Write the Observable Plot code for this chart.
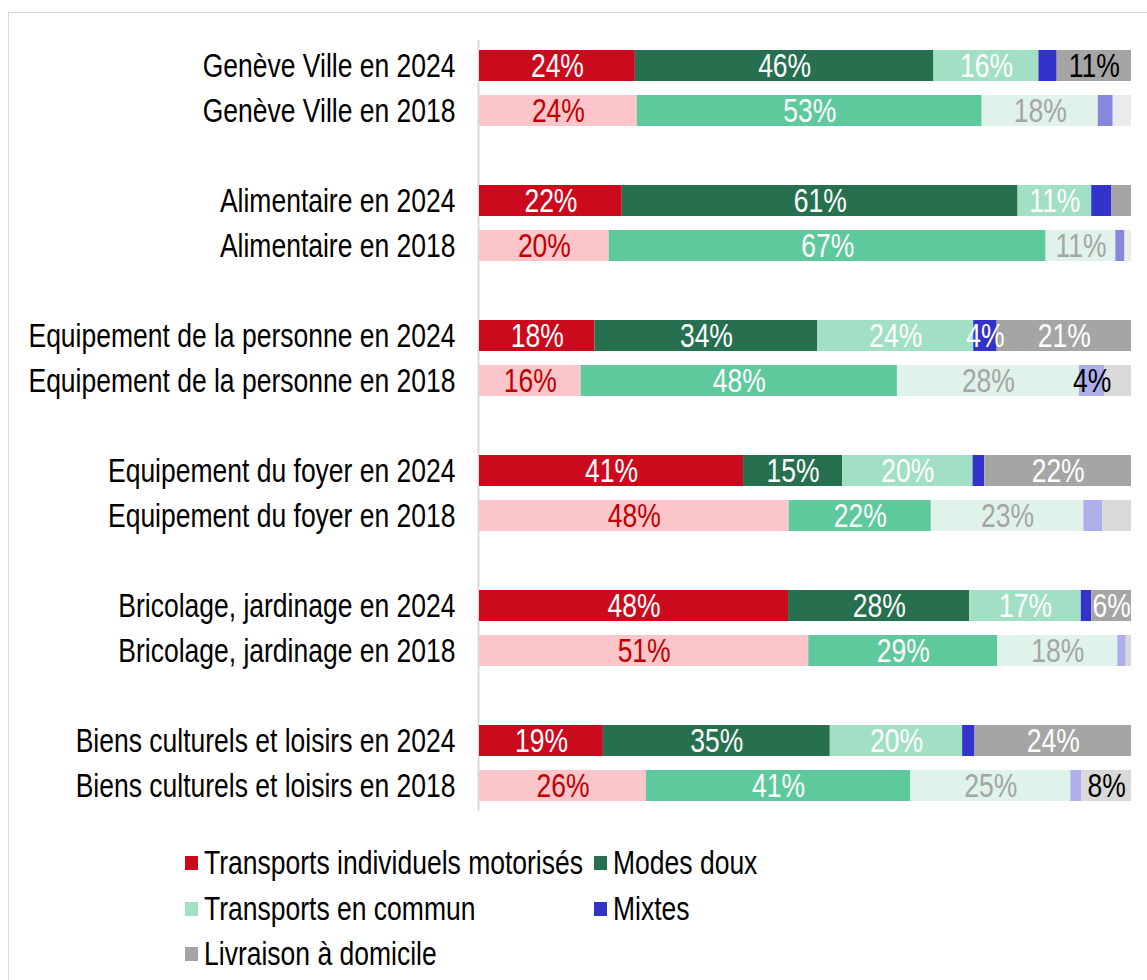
<!DOCTYPE html>
<html>
<head>
<meta charset="utf-8">
<script src="https://cdn.jsdelivr.net/npm/d3@7"></script>
<script src="https://cdn.jsdelivr.net/npm/@observablehq/plot@0.6"></script>
<style>
  html, body { margin: 0; padding: 0; background: #fff; overflow: hidden; width: 1147px; height: 980px; }
  #frame { position: absolute; left: 8px; top: 12px; width: 1160px; height: 1000px; border: 1px solid #d9d9d9; box-sizing: border-box; }
  #chart { position: absolute; left: 0; top: 0; }
  .font { font-family: 'Liberation Sans', Arial, sans-serif; }
  #legend { position: absolute; left: 185px; top: 846px; width: 900px; font-size: 26.5px; color: #000; }
  .item { position: absolute; display: flex; align-items: center; white-space: nowrap; height: 34px; }
  .sw { width: 13px; height: 14px; margin-right: 6px; flex: none; }
  .lt { display: inline-block; transform: scaleY(1.26); transform-origin: 50% 55%; }
</style>
</head>
<body>
<div id="frame"></div>
<div id="chart" class="font"></div>
<div id="legend" class="font"></div>
<script>
const categories = ["Genève Ville", "Alimentaire", "Equipement de la personne", "Equipement du foyer", "Bricolage, jardinage", "Biens culturels et loisirs"];
const years = ["2024", "2018"];
const modes = ["Transports individuels motorisés", "Modes doux", "Transports en commun", "Mixtes", "Livraison à domicile"];

// shares (%) per category, in mode order
const values2024 = [
  [23.9, 45.8, 16.1, 2.8, 11.4],
  [21.9, 60.7, 11.3, 3.1, 3.0],
  [17.7, 34.2, 23.9, 3.6, 20.6],
  [40.5, 15.2, 20.0, 1.8, 22.5],
  [47.4, 27.8, 17.1, 1.6, 6.1],
  [19.0, 34.8, 20.3, 1.9, 24.0]
];
const values2018 = [
  [24.2, 52.9, 17.8, 2.3, 2.8],
  [19.9, 67.0, 10.7, 1.4, 1.0],
  [15.6, 48.5, 27.9, 3.9, 4.1],
  [47.5, 21.8, 23.4, 2.9, 4.4],
  [50.5, 29.0, 18.4, 1.3, 0.8],
  [25.6, 40.5, 24.6, 1.7, 7.6]
];
const labels2024 = [
  ["24%", "46%", "16%", "", "11%"],
  ["22%", "61%", "11%", "", ""],
  ["18%", "34%", "24%", "4%", "21%"],
  ["41%", "15%", "20%", "", "22%"],
  ["48%", "28%", "17%", "", "6%"],
  ["19%", "35%", "20%", "", "24%"]
];
const labels2018 = [
  ["24%", "53%", "18%", "", ""],
  ["20%", "67%", "11%", "", ""],
  ["16%", "48%", "28%", "4%", ""],
  ["48%", "22%", "23%", "", ""],
  ["51%", "29%", "18%", "", ""],
  ["26%", "41%", "25%", "", "8%"]
];

// styles
const fill2024 = ["#CC0A1E", "#267050", "#A2E0C5", "#3333CC", "#A5A5A5"];
const fill2018 = ["#FCC5CA", "#5EC99C", "#DFF3EA", "#AEAEEA", "#D9D9D9"];
const fill2018b = ["#FCC5CA", "#5EC99C", "#DFF3EA", "#8787DE", "#EBEBEB"];
const ink2024 = ["#FFFFFF", "#FFFFFF", "#FFFFFF", "#FFFFFF", "#FFFFFF"];
const ink2018 = ["#C00000", "#FFFFFF", "#A5A5A5", "#000000", "#000000"];

const rowKey = (c, y) => `${c} en ${y}`;
const domain = [];
const rowKeys = [];
categories.forEach((c, i) => {
  years.forEach(y => { domain.push(rowKey(c, y)); rowKeys.push(rowKey(c, y)); });
  if (i < categories.length - 1) domain.push("gap" + i);
});

const data = [];
categories.forEach((c, ci) => {
  years.forEach(y => {
    const vals = y === "2024" ? values2024[ci] : values2018[ci];
    const labs = y === "2024" ? labels2024[ci] : labels2018[ci];
    modes.forEach((m, mi) => {
      let fill = y === "2024" ? fill2024[mi] : (ci < 2 ? fill2018b[mi] : fill2018[mi]);
      let ink = y === "2024" ? ink2024[mi] : ink2018[mi];
      if (y === "2024" && ci === 0 && mi === 4) ink = "#000000";
      data.push({row: rowKey(c, y), mode: m, value: vals[mi], label: labs[mi], fill, ink});
    });
  });
});

const FS = 26.5;
const chart = Plot.plot({
  width: 1147,
  height: 830,
  marginLeft: 479,
  marginRight: 16,
  marginTop: 40,
  marginBottom: 19,
  style: {fontFamily: "'Liberation Sans', Arial, sans-serif", fontSize: FS + "px", color: "#000", background: "transparent"},
  x: {domain: [0, 100], axis: null},
  y: {domain, paddingInner: 0.316, paddingOuter: 0.158, axis: null},
  marks: [
    Plot.ruleX([0], {stroke: "#D9D9D9", strokeWidth: 2, dx: -1}),
    Plot.barX(data, Plot.stackX({x: "value", y: "row", z: "mode", fill: "fill", order: null})),
    Plot.text(data, Plot.stackX({x: "value", y: "row", z: "mode", text: "label", fill: "ink", order: null, fontSize: FS})),
    Plot.axisY(rowKeys, {tickSize: 0, tickPadding: 24, fontSize: FS, fill: "#000", label: null})
  ]
});
// stretch glyphs vertically (about each text's anchor) to match the reference's tall lettering
chart.querySelectorAll("text").forEach(t => {
  const tr = t.getAttribute("transform");
  if (tr) t.setAttribute("transform", tr + " scale(1,1.26)");
});
document.getElementById("chart").appendChild(chart);

// legend
const legendPos = [[0, 0], [409, 0], [0, 46], [409, 46], [0, 91]];
const legend = document.getElementById("legend");
modes.forEach((m, i) => {
  const d = document.createElement("div");
  d.className = "item";
  d.style.left = legendPos[i][0] + "px";
  d.style.top = legendPos[i][1] + "px";
  d.innerHTML = `<span class="sw" style="background:${fill2024[i]}"></span><span class="lt">${m}</span>`;
  legend.appendChild(d);
});
</script>
</body>
</html>
